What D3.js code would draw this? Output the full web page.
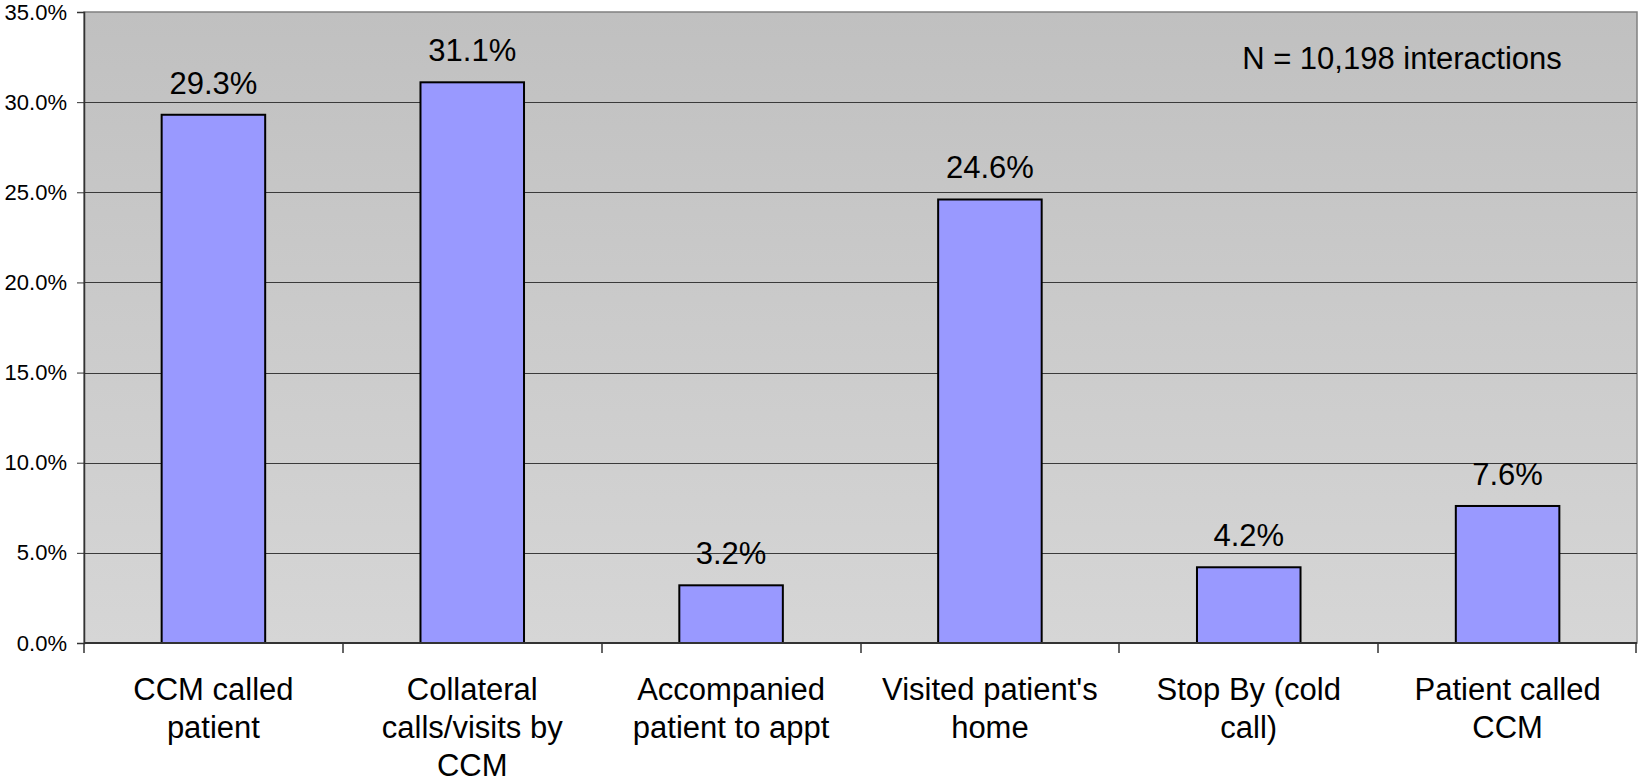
<!DOCTYPE html>
<html>
<head>
<meta charset="utf-8">
<script src="https://cdn.jsdelivr.net/npm/d3@7"></script>
<style>
  html, body { margin: 0; padding: 0; background: #fff; }
  svg { display: block; }
  text { font-family: "Liberation Sans", Arial, sans-serif; fill: #000; }
</style>
</head>
<body>
<svg id="chart" width="1638" height="783"></svg>
<script>
const categories = [
  "CCM called\npatient",
  "Collateral\ncalls/visits by\nCCM",
  "Accompanied\npatient to appt",
  "Visited patient's\nhome",
  "Stop By (cold\ncall)",
  "Patient called\nCCM"
];
const values = [0.293, 0.311, 0.032, 0.246, 0.042, 0.076];
const yTicks = [0, 0.05, 0.10, 0.15, 0.20, 0.25, 0.30, 0.35];
const annotation = "N = 10,198 interactions";

const svg = d3.select("#chart");
const pLeft = 84, pRight = 1637, pTop = 12, pBottom = 643;

const x = d3.scaleBand().domain(categories).range([pLeft, pRight])
  .paddingInner(0.6).paddingOuter(0.3);
const y = d3.scaleLinear().domain([0, 0.35]).range([pBottom, pTop]);

const defs = svg.append("defs");
const grad = defs.append("linearGradient").attr("id", "bg")
  .attr("x1", 0).attr("y1", 0).attr("x2", 0).attr("y2", 1);
grad.append("stop").attr("offset", "0%").attr("stop-color", "#c0c0c0");
grad.append("stop").attr("offset", "100%").attr("stop-color", "#d6d6d6");

svg.append("rect")
  .attr("x", pLeft).attr("y", pTop)
  .attr("width", pRight - pLeft).attr("height", pBottom - pTop)
  .attr("fill", "url(#bg)").attr("stroke", "#808080").attr("stroke-width", 1.5);

// gridlines
svg.append("g").selectAll("line")
  .data(yTicks.filter(d => d > 0 && d < 0.35))
  .join("line")
  .attr("x1", pLeft).attr("x2", pRight)
  .attr("y1", d => Math.round(y(d)) + 0.5).attr("y2", d => Math.round(y(d)) + 0.5)
  .attr("stroke", "#3a3a3a").attr("stroke-width", 1);

// bars
svg.append("g").selectAll("rect")
  .data(values)
  .join("rect")
  .attr("x", (d, i) => x(categories[i]))
  .attr("y", d => y(d))
  .attr("width", x.bandwidth())
  .attr("height", d => pBottom - y(d))
  .attr("fill", "#9999ff")
  .attr("stroke", "#000").attr("stroke-width", 2);

// value labels
svg.append("g").selectAll("text")
  .data(values)
  .join("text")
  .attr("x", (d, i) => x(categories[i]) + x.bandwidth() / 2)
  .attr("y", d => y(d) - 21)
  .attr("text-anchor", "middle")
  .style("font-size", "31px")
  .text(d => (d * 100).toFixed(1) + "%");

// y axis
const yAxis = d3.axisLeft(y).tickValues(yTicks)
  .tickFormat(d => (d * 100).toFixed(1) + "%")
  .tickSize(7).tickPadding(10);
const ya = svg.append("g").attr("transform", `translate(${pLeft},0)`).call(yAxis);
ya.select(".domain").attr("stroke", "#333").attr("stroke-width", 1.5);
ya.selectAll(".tick line").attr("stroke", "#333");
ya.selectAll(".tick text").style("font-size", "22px").style("font-family", "Liberation Sans, Arial, sans-serif").attr("fill", "#000");

// x axis line & ticks at category boundaries
svg.append("line").attr("x1", pLeft).attr("x2", pRight)
  .attr("y1", pBottom).attr("y2", pBottom)
  .attr("stroke", "#333").attr("stroke-width", 2);
const step = x.step();
const bounds = d3.range(categories.length + 1).map(i => pLeft + i * step);
svg.append("g").selectAll("line")
  .data(bounds)
  .join("line")
  .attr("x1", d => Math.min(Math.round(d), pRight - 1)).attr("x2", d => Math.min(Math.round(d), pRight - 1))
  .attr("y1", pBottom).attr("y2", pBottom + 10)
  .attr("stroke", "#333").attr("stroke-width", 1.5);

// category labels
const cl = svg.append("g").selectAll("text")
  .data(categories)
  .join("text")
  .attr("text-anchor", "middle")
  .style("font-size", "31px");
cl.each(function(c) {
  const t = d3.select(this);
  c.split("\n").forEach((line, j) => {
    t.append("tspan")
      .attr("x", x(c) + x.bandwidth() / 2)
      .attr("y", 700 + j * 38)
      .text(line);
  });
});

// annotation
svg.append("text")
  .attr("x", 1402).attr("y", 69)
  .attr("text-anchor", "middle")
  .style("font-size", "31px")
  .text(annotation);
</script>
</body>
</html>
